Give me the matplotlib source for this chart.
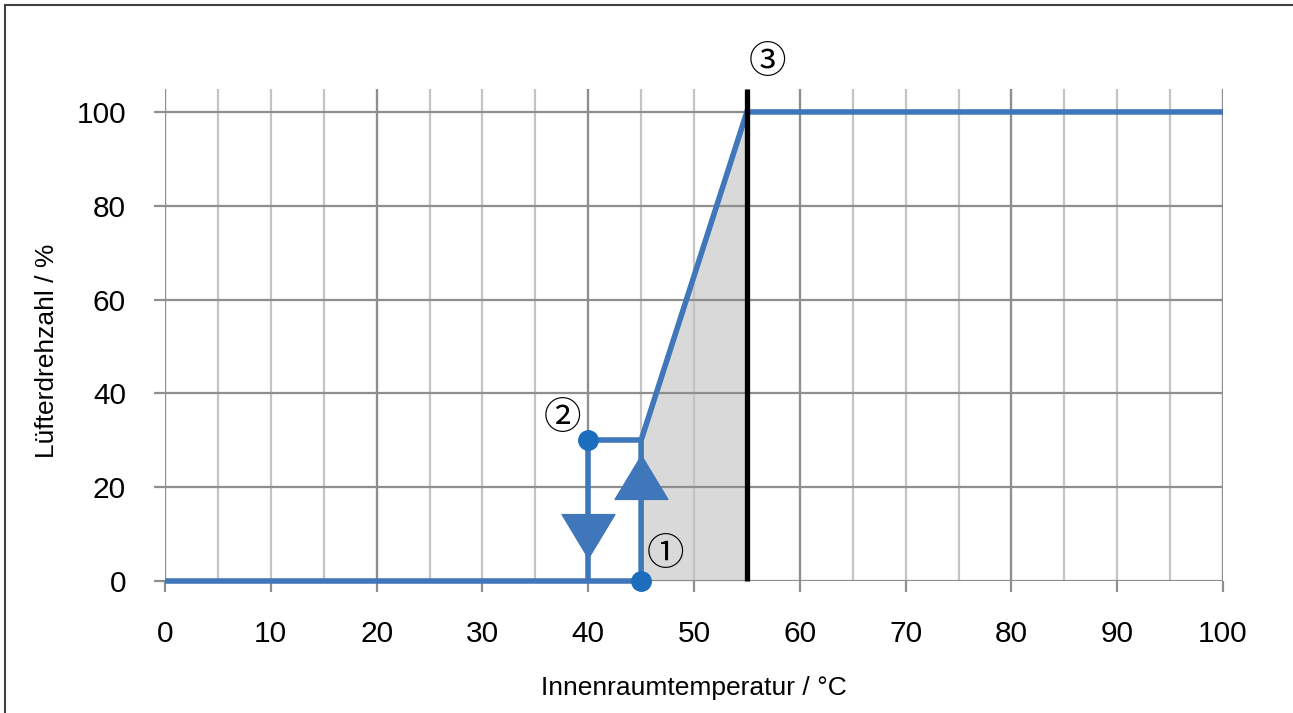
import matplotlib
matplotlib.use("Agg")
import matplotlib.pyplot as plt
from matplotlib.path import Path
from matplotlib.patches import Rectangle

plt.rcParams['font.family'] = ['Liberation Sans', 'DejaVu Sans']

# ---- data ----
main_x = [0, 45, 45, 55, 100]
main_y = [0, 0, 30, 100, 100]
hyst_x = [45, 40, 40]
hyst_y = [30, 30, 0]
point_x = [40, 45]
point_y = [30, 0]
shade_x = [45, 55]
shade_top = [30, 100]
limit_x = 55
arrow_up = (45, 22.2)
arrow_down = (40, 9.5)
labels = ['①', '②', '③']
label_x = [47.3, 37.6, 56.9]
label_y = [6.6, 35.6, 111.5]
xticks = list(range(0, 101, 10))
yticks = list(range(0, 101, 20))
xlabel = 'Innenraumtemperatur / °C'
ylabel = 'Lüfterdrehzahl / %'

blue = '#3f77ba'
dot_blue = '#1c6ebd'

W, H = 1293, 713
fig = plt.figure(figsize=(W / 100, H / 100), dpi=100)
fig.patches.append(Rectangle((5 / W, -0.1), 1.2, 1.1 - 5 / H, transform=fig.transFigure,
                             fill=False, edgecolor='#404040', linewidth=1.5))

left, right = 165 / W, 1223 / W
bottom, top = 1 - 581 / H, 1 - 88.5 / H
ax = fig.add_axes([left, bottom, right - left, top - bottom])
ax.set_xlim(0, 100)
ax.set_ylim(0, 105)
for s in ax.spines.values():
    s.set_visible(False)

ax.set_axisbelow(True)
ax.set_xticks(xticks)
ax.set_xticks(list(range(5, 100, 10)), minor=True)
ax.set_yticks(yticks)
ax.grid(True, which='both', axis='x', color='#c4c4c4', linewidth=1.6)
ax.grid(True, which='major', axis='y', color='#8e8e8e', linewidth=1.6)
for xv in range(0, 101, 20):
    ax.axvline(xv, color='#8e8e8e', linewidth=1.6, zorder=0.6)
ax.tick_params(which='major', direction='out', length=8, width=1.6, color='#8e8e8e',
               labelsize=21.5)
ax.tick_params(axis='x', pad=20)
ax.tick_params(axis='y', pad=20)
ax.tick_params(which='minor', length=0)

ax.set_xlabel(xlabel, fontsize=19)
ax.set_ylabel(ylabel, fontsize=19)
ax.xaxis.set_label_coords(0.5, -(688 - 581) / 492.5)
ax.yaxis.set_label_coords((47 - 165) / 1058, (581 - 351) / 492.5)
ax.xaxis.label.set_va('center')
ax.yaxis.label.set_va('center')

ax.fill_between(shade_x, shade_top, 0, color='#d9d9d9', zorder=0.2, linewidth=0)

ax.plot(main_x, main_y, color=blue, linewidth=4, clip_on=False, zorder=3,
        solid_capstyle='butt', solid_joinstyle='miter')
ax.plot(hyst_x, hyst_y, color=blue, linewidth=4, clip_on=False, zorder=3,
        solid_capstyle='butt', solid_joinstyle='miter')

tri_up = Path([(0, 0.83), (-1, -0.83), (1, -0.83), (0, 0.83)],
              [Path.MOVETO, Path.LINETO, Path.LINETO, Path.CLOSEPOLY])
tri_down = Path([(0, -0.83), (-1, 0.83), (1, 0.83), (0, -0.83)],
                [Path.MOVETO, Path.LINETO, Path.LINETO, Path.CLOSEPOLY])
ax.plot([arrow_up[0]], [arrow_up[1]], marker=tri_up, markersize=38, color=blue,
        linestyle='none', zorder=4)
ax.plot([arrow_down[0]], [arrow_down[1]], marker=tri_down, markersize=38, color=blue,
        linestyle='none', zorder=4)

ax.plot([limit_x, limit_x], [0, 105], color='black', linewidth=3.8, zorder=5,
        clip_on=False, solid_capstyle='butt')

ax.plot(point_x, point_y, 'o', color=dot_blue, markersize=14, clip_on=False, zorder=6)

for t, xv, yv in zip(labels, label_x, label_y):
    ax.text(xv, yv, t, fontsize=27, ha='center', va='center_baseline',
            family=['Noto Sans CJK JP', 'DejaVu Sans'], clip_on=False, zorder=7)

fig.savefig('out.png', dpi=100)
